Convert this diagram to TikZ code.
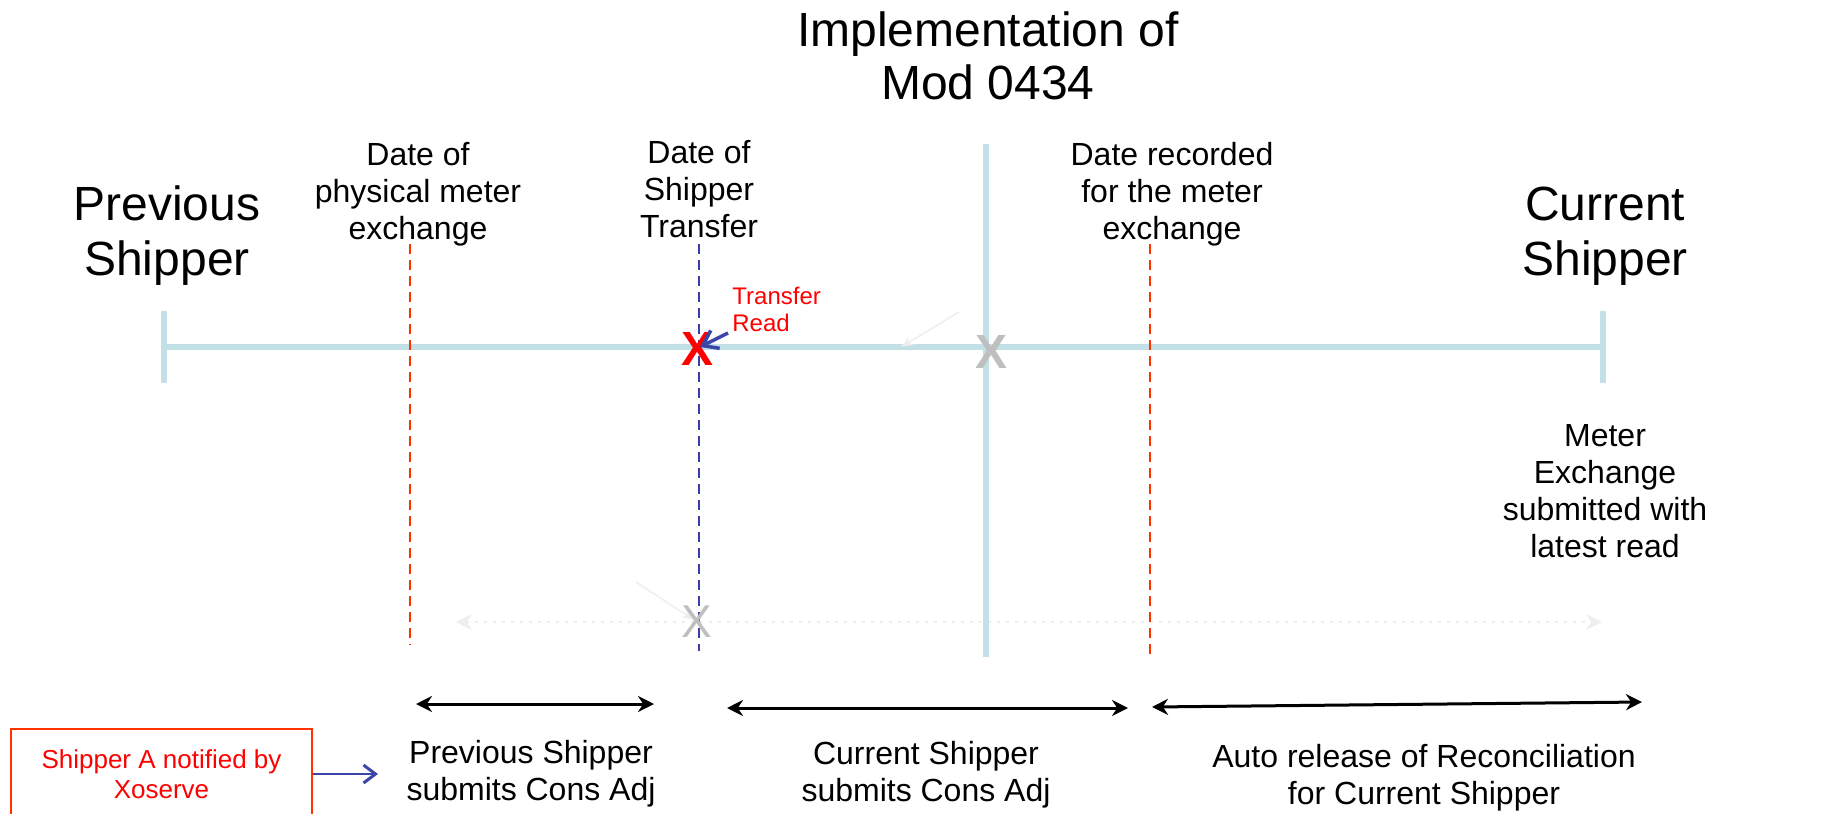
\documentclass[tikz,border=0pt]{standalone}
\usepackage{fontspec}
\setmainfont{Liberation Sans}
\usetikzlibrary{arrows.meta}
\definecolor{tline}{HTML}{C2E0E5}
\definecolor{dred}{HTML}{FF3300}
\definecolor{dblue}{HTML}{3A3FA8}
\definecolor{ablue}{HTML}{3B45A8}
\definecolor{faint}{HTML}{EEEEEE}
\definecolor{xgray}{HTML}{BFBFBF}
\tikzset{
  big/.style={inner sep=0pt, align=center, font=\fontsize{24}{27.5}\selectfont},
  lbl/.style={inner sep=0pt, align=center, font=\fontsize{16}{18.5}\selectfont},
  tlline/.style={draw=tline, line width=3pt},
  reddash/.style={draw=dred, line width=0.75pt, dash pattern=on 5pt off 3pt},
  bluedash/.style={draw=dblue, line width=0.75pt, dash pattern=on 5pt off 3pt},
  dbl/.style={draw=black, line width=1.5pt, {Stealth[length=8pt,width=8pt]}-{Stealth[length=8pt,width=8pt]}},
  openarrow/.style={draw=ablue, -{Straight Barb[length=6pt,width=9pt,line width=1.5pt]}},
  faintarrow/.style={draw=faint, line width=0.75pt, -{Stealth[length=6pt]}}
}
\begin{document}
\begin{tikzpicture}[x=0.5pt,y=-0.5pt]
\useasboundingbox (0,0) rectangle (1839,813);

% title
\node[big, font=\fontsize{24}{26.5}\selectfont] (title) at (988,56) {Implementation of\\Mod 0434};
\node[big] (prev) at (167,236) {Previous\\Shipper};
\node[big] (curr) at (1605,236) {Current\\Shipper};

\node[lbl] (dphys) at (418,194) {Date of\\physical meter\\exchange};
\node[lbl] (dtrans) at (699,189) {Date of\\Shipper\\Transfer};
\node[lbl] (drec) at (1172,194) {Date recorded\\for the meter\\exchange};
\node[lbl] (meter) at (1605,491) {Meter\\Exchange\\submitted with\\latest read};

% coordinates
\coordinate (L) at (164,347);
\coordinate (R) at (1603,347);
\coordinate (Lt) at (164,311); \coordinate (Lb) at (164,383);
\coordinate (Rt) at (1603,311); \coordinate (Rb) at (1603,383);
\coordinate (Vt) at (986,144); \coordinate (Vb) at (986,657);
\coordinate (r1t) at (410,244); \coordinate (r1b) at (410,645);
\coordinate (r2t) at (1150,244); \coordinate (r2b) at (1150,659);
\coordinate (bt) at (699,244); \coordinate (bb) at (699,651);

% faint background elements
\coordinate (fd1) at (456,622); \coordinate (fd2) at (1602,622);
\draw[draw=faint, line width=0.75pt, dash pattern=on 1.5pt off 3pt, {Stealth[length=8pt,width=8pt]}-{Stealth[length=8pt,width=8pt]}] (fd1) -- (fd2);
\coordinate (fa1s) at (959,312); \coordinate (fa1e) at (901,347);
\coordinate (fa2s) at (636,582); \coordinate (fa2e) at (694,620);

% main timeline
\draw[tlline] (L) -- (R);
\draw[tlline] (Lt) -- (Lb);
\draw[tlline] (Rt) -- (Rb);
\draw[tlline] (Vt) -- (Vb);
\draw[faintarrow] (fa1s) -- (fa1e);
\draw[faintarrow] (fa2s) -- (fa2e);

% dashed markers
\draw[reddash] (r1t) -- (r1b);
\draw[reddash] (r2t) -- (r2b);
\draw[bluedash] (bt) -- (bb);

% X marks
\node[inner sep=0pt, text=red, font=\fontsize{24}{24}\selectfont\bfseries] (xred) at (697,349) {X};
\node[inner sep=0pt, text=xgray, font=\fontsize{24}{24}\selectfont\bfseries] (xgr) at (991,352) {X};
\node[inner sep=0pt, text=xgray, font=\fontsize{23}{23}\selectfont] (xlow) at (697,622) {X};

% transfer read
\node[inner sep=0pt, align=left, anchor=west, text=red, font=\fontsize{12}{13.5}\selectfont] (tread) at (732,309) {Transfer\\Read};
\coordinate (ta) at (728,333);
\coordinate (tb) at (700,347);
\draw[draw=ablue, line width=1.75pt, -{Straight Barb[length=7pt,width=10pt,line width=1.75pt]}] (ta) -- (tb);

% bottom arrows
\coordinate (a1l) at (416,704); \coordinate (a1r) at (654,704);
\coordinate (a2l) at (727,708); \coordinate (a2r) at (1128,708);
\coordinate (a3l) at (1152,707); \coordinate (a3r) at (1642,702);
\draw[dbl] (a1l) -- (a1r);
\draw[dbl] (a2l) -- (a2r);
\draw[dbl] (a3l) -- (a3r);

\node[lbl] (bprev) at (531,774) {Previous Shipper\\submits Cons Adj};
\node[lbl] (bcurr) at (926,775) {Current Shipper\\submits Cons Adj};
\node[lbl] (bauto) at (1424,778) {Auto release of Reconciliation\\for Current Shipper};

% shipper A box
\node[draw=dred, line width=1pt, text=red, align=center, minimum width=150.5pt, minimum height=45pt, inner sep=0pt, font=\fontsize{13}{15}\selectfont] (box) at (161.5,774) {Shipper A notified by\\Xoserve};
\coordinate (boxto) at (378,774);
\draw[openarrow, line width=1pt] (box.east) -- (boxto);
\end{tikzpicture}
\end{document}
